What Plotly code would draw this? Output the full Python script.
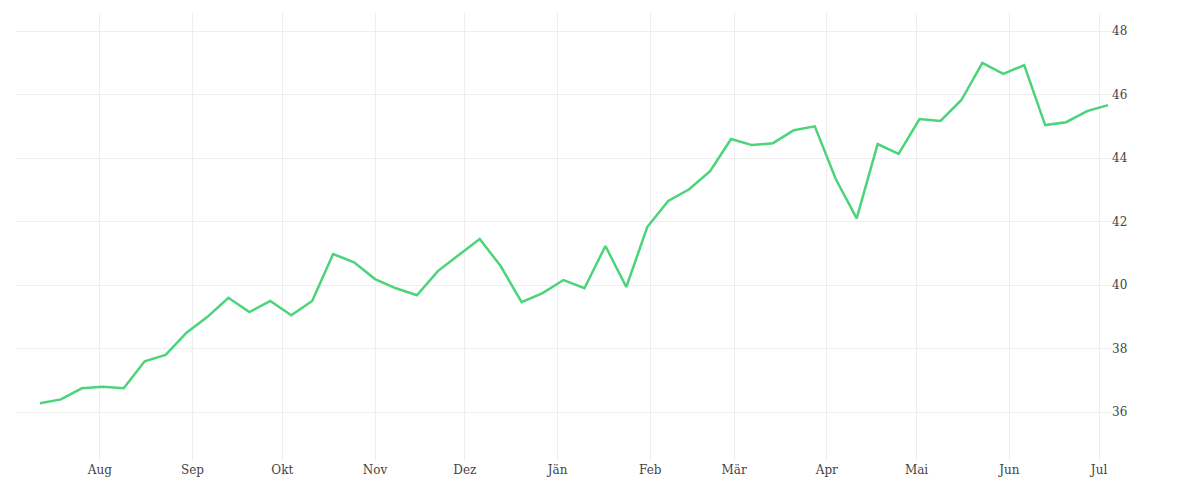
import plotly.graph_objects as go
import pandas as pd

start = "2020-07-12"
values = [36.28, 36.4, 36.75, 36.8, 36.75, 37.6, 37.8, 38.5, 39.0, 39.6, 39.15, 39.5, 39.05,
          39.5, 40.98, 40.72, 40.19, 39.9, 39.68, 40.44, 40.95, 41.45, 40.6, 39.46, 39.75,
          40.16, 39.9, 41.23, 39.94, 41.83, 42.65, 43.02, 43.59, 44.6, 44.41, 44.47, 44.88,
          45.0, 43.34, 42.1, 44.44, 44.13, 45.23, 45.17, 45.83, 47.0, 46.65, 46.93, 45.04,
          45.13, 45.48, 45.67]
dates = pd.date_range(start, periods=len(values), freq="7D")
tick_dates = pd.date_range("2020-08-01", "2021-07-01", freq="MS")
tick_labels = ["Aug", "Sep", "Okt", "Nov", "Dez", "Jän", "Feb", "Mär", "Apr", "Mai", "Jun", "Jul"]

fig = go.Figure(go.Scatter(x=dates, y=values, mode="lines",
                           line=dict(color="#4cd47a", width=2.5), hoverinfo="x+y"))
fig.update_layout(
    width=1200, height=500, plot_bgcolor="white", paper_bgcolor="white",
    margin=dict(l=8, r=97, t=5, b=47), showlegend=False,
    font=dict(family="DejaVu Serif", size=12, color="#444"),
)
fig.update_xaxes(range=["2020-07-04", "2021-07-05"], tickvals=tick_dates, ticktext=tick_labels,
                 showgrid=True, gridcolor="#eeeeee", zeroline=False, showline=False, ticks="")
fig.update_yaxes(side="right", range=[34.46, 48.57], tickvals=[36, 38, 40, 42, 44, 46, 48],
                 showgrid=True, gridcolor="#eeeeee", zeroline=False, ticks="")
fig.write_html("out.html")
